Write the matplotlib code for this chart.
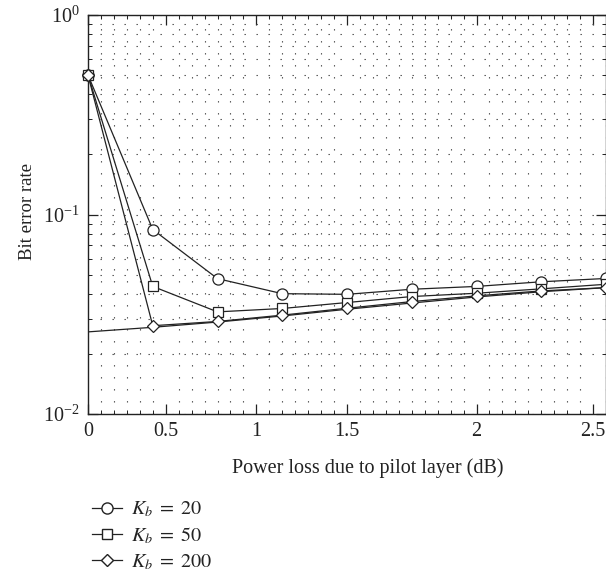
import matplotlib
matplotlib.use("Agg")
import matplotlib.pyplot as plt
from matplotlib.ticker import LogLocator, MultipleLocator, FixedLocator, NullFormatter
from matplotlib.lines import Line2D

plt.rcParams['font.family'] = ['Liberation Serif', 'DejaVu Serif']
plt.rcParams['mathtext.fontset'] = 'stix'

# Pilot-to-data power ratio (linear axis) and BER values
pilot_ratio = [0.0, 0.1, 0.2, 0.3, 0.4, 0.5, 0.6, 0.7, 0.8]
ber_k20 = [0.5, 0.0841, 0.0477, 0.0401, 0.0398, 0.0422, 0.0436, 0.0460, 0.0478]
ber_k50 = [0.5, 0.0436, 0.0325, 0.0338, 0.0362, 0.0388, 0.0403, 0.0424, 0.0447]
ber_k200 = [0.5, 0.0277, 0.0291, 0.0313, 0.0339, 0.0366, 0.0391, 0.0414, 0.0430]
ber_ref = [0.0258, 0.0272, 0.0289, 0.0310, 0.0335, 0.0360, 0.0386, 0.0410, 0.0430]

series_labels = [r'$K_b\;=\;20$', r'$K_b\;=\;50$', r'$K_b\;=\;200$']

# x tick positions (in pilot ratio) and their dB labels
xtick_pos = [0.0, 0.12, 0.26, 0.40, 0.60, 0.78]
xtick_labels = ['0', '0.5', '1', '1.5', '2', '2.5']

W, H = 606, 580
fig = plt.figure(figsize=(W / 100, H / 100), dpi=100)
ax = fig.add_axes([88 / W, 1 - 414 / H, 518 / W, 399 / H])

ax.set_yscale('log')
ax.set_xlim(0, 0.8)
ax.set_ylim(1e-2, 1)

FS = 14.5
lw = 0.9
ax.plot(pilot_ratio, ber_ref, color='#222222', lw=lw, zorder=3)
mk = dict(color='#222222', lw=lw, markerfacecolor='white', markeredgecolor='#222222',
          markeredgewidth=0.9, clip_on=False, zorder=4)
ax.plot(pilot_ratio, ber_k20, marker='o', markersize=8, **mk)
ax.plot(pilot_ratio, ber_k50, marker='s', markersize=7, **mk)
ax.plot(pilot_ratio, ber_k200, marker='D', markersize=6, **mk)

# ticks
ax.xaxis.set_major_locator(FixedLocator(xtick_pos))
ax.set_xticklabels(xtick_labels)
ax.xaxis.set_minor_locator(MultipleLocator(0.02))
ax.yaxis.set_major_locator(LogLocator(base=10, numticks=10))
ax.yaxis.set_minor_locator(LogLocator(base=10, subs=range(2, 10), numticks=20))
ax.yaxis.set_minor_formatter(NullFormatter())
ax.tick_params(which='both', direction='in', top=True, right=True, colors='#222222',
               labelcolor='#222222', labelsize=FS)
ax.tick_params(which='major', length=7, width=0.9, pad=6)
ax.tick_params(which='minor', length=3, width=0.7)

# dotted grid
gkw = dict(color='#444444', linewidth=0.8, linestyle=(0, (1.2, 9.6)))
ax.grid(True, which='both', axis='y', **gkw)
ax.grid(True, which='minor', axis='x', **gkw)
ax.grid(False, which='major', axis='x')
ax.set_axisbelow(True)

for s in ax.spines.values():
    s.set_linewidth(1.0)
    s.set_color('#222222')

ax.set_xlabel('Power loss due to pilot layer (dB)', fontsize=FS, color='#222222')
ax.xaxis.set_label_coords((368 - 88) / 518, (414 - 468) / 399, transform=ax.transAxes)
ax.xaxis.label.set_verticalalignment('center')
ax.set_ylabel('Bit error rate', fontsize=13.5, color='#222222')
ax.yaxis.set_label_coords((28 - 88) / 518, (414 - 211) / 399)
ax.yaxis.label.set_verticalalignment('center')

handles = [
    Line2D([], [], color='#222222', lw=lw, marker='o', markersize=8, markerfacecolor='white', markeredgecolor='#222222'),
    Line2D([], [], color='#222222', lw=lw, marker='s', markersize=7, markerfacecolor='white', markeredgecolor='#222222'),
    Line2D([], [], color='#222222', lw=lw, marker='D', markersize=6, markerfacecolor='white', markeredgecolor='#222222'),
]
fig.legend(handles, series_labels, loc='upper left', bbox_to_anchor=(92 / W, 1 - 500 / H),
           frameon=False, fontsize=FS, handlelength=1.5, handletextpad=0.45,
           labelspacing=0.3, borderaxespad=0, borderpad=0, labelcolor='#222222')

fig.savefig('out.png', dpi=100)
